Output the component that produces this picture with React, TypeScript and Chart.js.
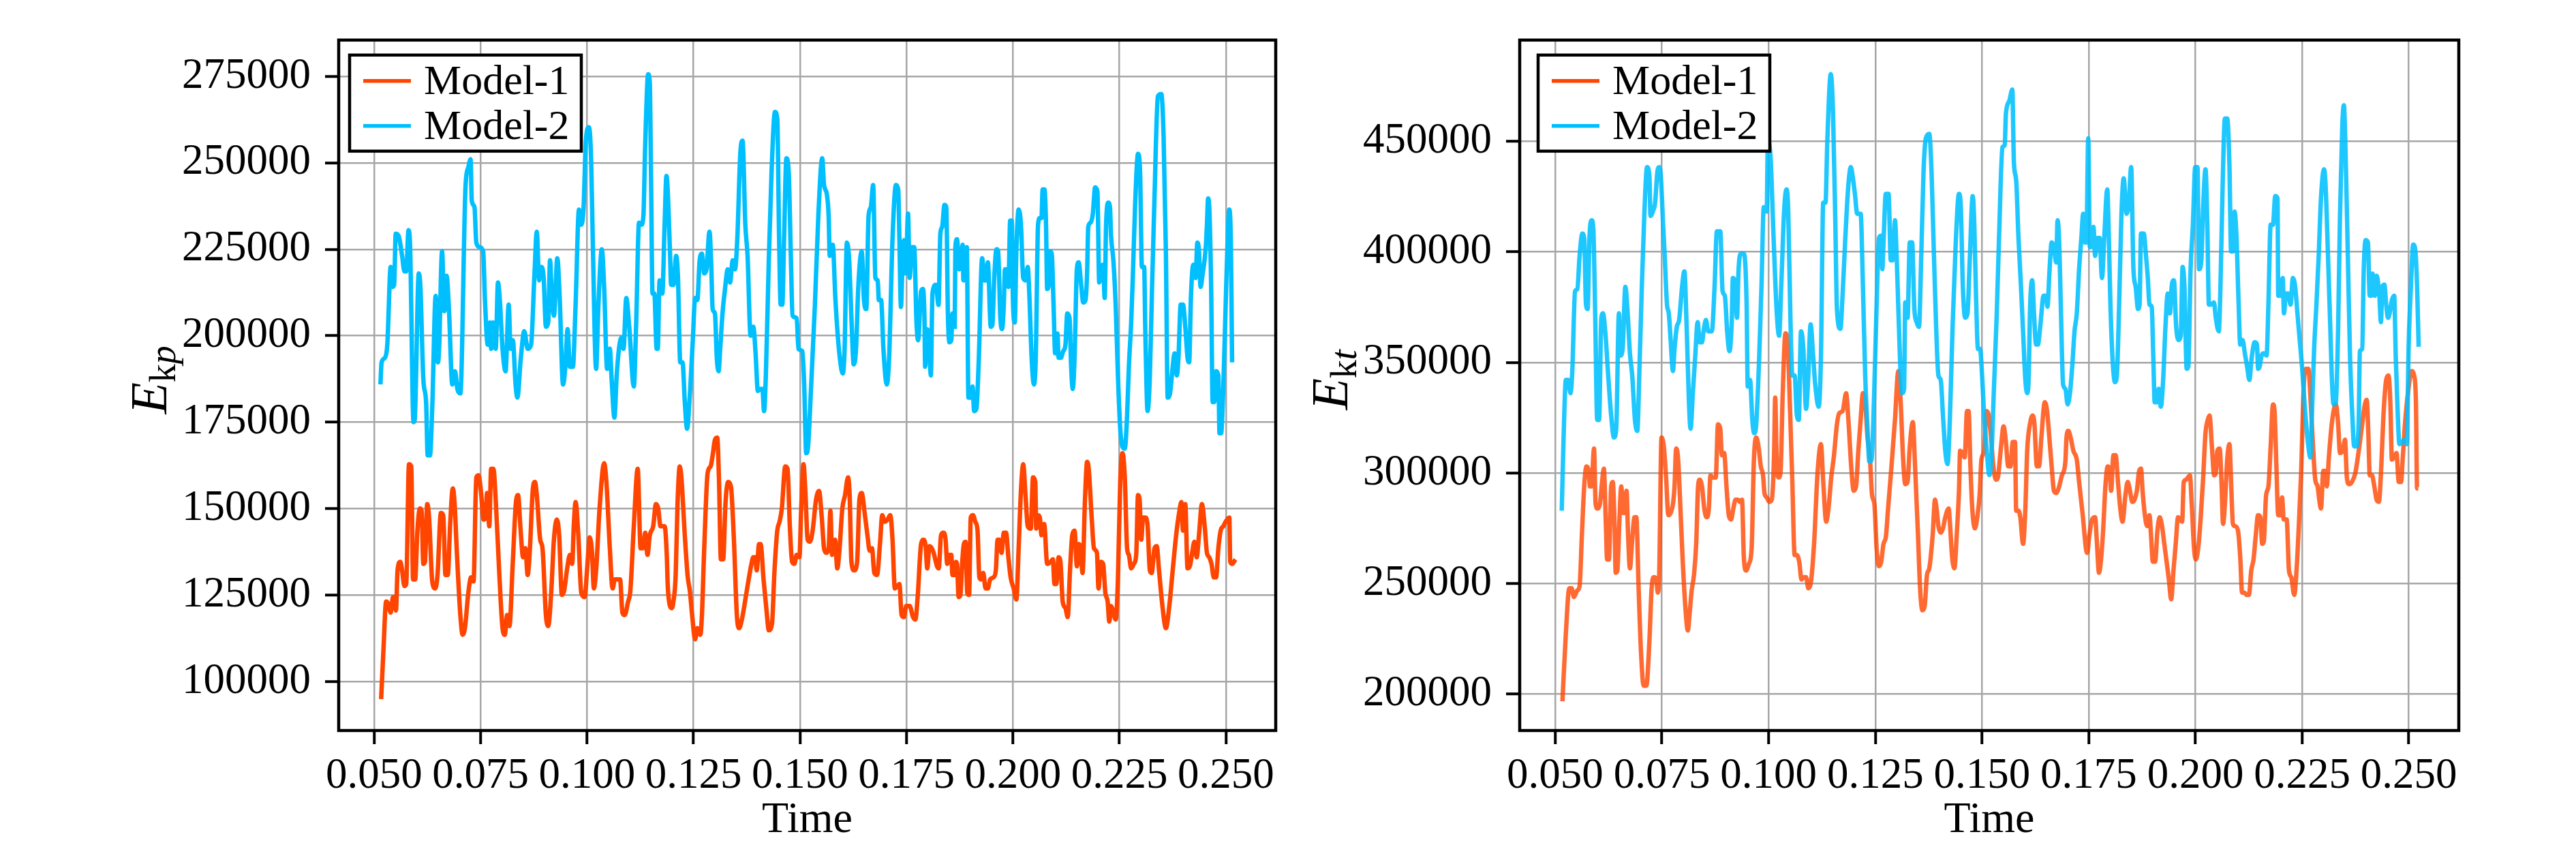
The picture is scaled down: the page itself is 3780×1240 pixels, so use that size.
import { useEffect, useRef } from 'react';
import { Chart, registerables } from 'chart.js';

Chart.register(...registerables);

type Pt = [number, number];

const seriesNames = ['Model-1', 'Model-2'];
const timeTicks = [0.05, 0.075, 0.1, 0.125, 0.15, 0.175, 0.2, 0.225, 0.25];
const kpTicks = [100000, 125000, 150000, 175000, 200000, 225000, 250000, 275000];
const ktTicks = [200000, 250000, 300000, 350000, 400000, 450000];

// left panel, E_kp
const kpModel1: Pt[] = [
  [0.05166, 94900], [0.05220, 108900], [0.05284, 123100], [0.05338, 122400], [0.05391, 119900], [0.05445, 124400],
  [0.05482, 124400], [0.05514, 120500], [0.05552, 132100], [0.05616, 134600], [0.05659, 132100], [0.05713, 127600],
  [0.05756, 128200], [0.05820, 162800], [0.05874, 162200], [0.05916, 129500], [0.05965, 129500], [0.06018, 143600],
  [0.06077, 150000], [0.06115, 149400], [0.06158, 134000], [0.06195, 134600], [0.06249, 151300], [0.06292, 147400],
  [0.06367, 128900], [0.06436, 126900], [0.06490, 130800], [0.06570, 148700], [0.06624, 148100], [0.06677, 130800],
  [0.06731, 130800], [0.06785, 144900], [0.06849, 155800], [0.06892, 151300], [0.06945, 137200], [0.07026, 119200],
  [0.07079, 113500], [0.07133, 115400], [0.07213, 125600], [0.07278, 130100], [0.07336, 128900], [0.07401, 159000],
  [0.07454, 159600], [0.07508, 155100], [0.07572, 146800], [0.07615, 147400], [0.07653, 154500], [0.07706, 144900],
  [0.07749, 161500], [0.07803, 161500], [0.07856, 152600], [0.07937, 132100], [0.08017, 115400], [0.08071, 113500],
  [0.08124, 119200], [0.08178, 116000], [0.08258, 134600], [0.08328, 151300], [0.08382, 153900], [0.08435, 144900],
  [0.08499, 135900], [0.08553, 138500], [0.08607, 130800], [0.08660, 138500], [0.08725, 155100], [0.08778, 157700],
  [0.08821, 153900], [0.08901, 141000], [0.08955, 138500], [0.09035, 119200], [0.09089, 116000], [0.09159, 125600],
  [0.09223, 141000], [0.09293, 146800], [0.09346, 142300], [0.09410, 125000], [0.09464, 126300], [0.09528, 132100],
  [0.09598, 136600], [0.09652, 134000], [0.09689, 144900], [0.09732, 151900], [0.09796, 142300], [0.09866, 125600],
  [0.09946, 124400], [0.10000, 132100], [0.10064, 141700], [0.10118, 137200], [0.10161, 126900], [0.10214, 132100],
  [0.10295, 150000], [0.10402, 163100], [0.10455, 157700], [0.10536, 138500], [0.10600, 126900], [0.10654, 129500],
  [0.10723, 129500], [0.10777, 129500], [0.10831, 119900], [0.10884, 119200], [0.10965, 123100], [0.11018, 126300],
  [0.11099, 144900], [0.11190, 161500], [0.11259, 138500], [0.11313, 138500], [0.11366, 143000], [0.11420, 136600],
  [0.11474, 142300], [0.11554, 144900], [0.11618, 151300], [0.11672, 150000], [0.11725, 144900], [0.11822, 144900],
  [0.11875, 135900], [0.11894, 128200], [0.11948, 121800], [0.11991, 121200], [0.12028, 123100], [0.12082, 130800],
  [0.12125, 151300], [0.12178, 162200], [0.12216, 159000], [0.12296, 142300], [0.12366, 130100], [0.12414, 126300],
  [0.12468, 119200], [0.12538, 112200], [0.12591, 115400], [0.12661, 113500], [0.12698, 119200], [0.12752, 138500],
  [0.12832, 160300], [0.12902, 162200], [0.12950, 165400], [0.13004, 169900], [0.13057, 170500], [0.13100, 157700],
  [0.13143, 135300], [0.13197, 135300], [0.13250, 151300], [0.13315, 157700], [0.13379, 156400], [0.13449, 141000],
  [0.13518, 119200], [0.13572, 115400], [0.13636, 117900], [0.13743, 125600], [0.13850, 133300], [0.13904, 135900],
  [0.13947, 135900], [0.13984, 132100], [0.14038, 139700], [0.14076, 139700], [0.14145, 129500], [0.14215, 120500],
  [0.14268, 114800], [0.14343, 116700], [0.14402, 132100], [0.14467, 143600], [0.14520, 146200], [0.14574, 150000],
  [0.14654, 162200], [0.14708, 161500], [0.14762, 144900], [0.14815, 134600], [0.14869, 134000], [0.14922, 136600],
  [0.14987, 135900], [0.15029, 150000], [0.15083, 162800], [0.15126, 155100], [0.15180, 141000], [0.15233, 140400],
  [0.15297, 143600], [0.15378, 152600], [0.15447, 155100], [0.15512, 147400], [0.15565, 138500], [0.15619, 137200],
  [0.15673, 138500], [0.15715, 149400], [0.15753, 136600], [0.15823, 141000], [0.15876, 132700], [0.15930, 138500],
  [0.15994, 150000], [0.16058, 153900], [0.16128, 159000], [0.16166, 153900], [0.16208, 134600], [0.16273, 132100],
  [0.16342, 134600], [0.16396, 152600], [0.16450, 154500], [0.16519, 148700], [0.16584, 142300], [0.16637, 137800],
  [0.16691, 138500], [0.16745, 131400], [0.16809, 130800], [0.16878, 139700], [0.16932, 148100], [0.16986, 146200],
  [0.17055, 146800], [0.17120, 148100], [0.17173, 141000], [0.17227, 126900], [0.17291, 127600], [0.17334, 128200],
  [0.17387, 119200], [0.17441, 118600], [0.17495, 121800], [0.17575, 121800], [0.17655, 118600], [0.17709, 117900],
  [0.17763, 124400], [0.17843, 139700], [0.17896, 141000], [0.17950, 139100], [0.17988, 132700], [0.18041, 139100],
  [0.18095, 138500], [0.18138, 137200], [0.18218, 133300], [0.18258, 132700], [0.18312, 142300], [0.18365, 143000],
  [0.18419, 141000], [0.18457, 134000], [0.18510, 136600], [0.18553, 136600], [0.18580, 130800], [0.18633, 130800],
  [0.18660, 134600], [0.18687, 134000], [0.18725, 124400], [0.18767, 125000], [0.18810, 134600], [0.18848, 139700],
  [0.18885, 140400], [0.18928, 125600], [0.18971, 125000], [0.19009, 147400], [0.19062, 148100], [0.19116, 146200],
  [0.19169, 143600], [0.19212, 130100], [0.19250, 129500], [0.19303, 131400], [0.19357, 126900], [0.19411, 126900],
  [0.19464, 129500], [0.19544, 130100], [0.19598, 132100], [0.19641, 141000], [0.19678, 141000], [0.19732, 137200],
  [0.19786, 143000], [0.19839, 143000], [0.19893, 135900], [0.19946, 130100], [0.20016, 126900], [0.20080, 123700],
  [0.20134, 138500], [0.20188, 155100], [0.20241, 162800], [0.20295, 153900], [0.20348, 144900], [0.20418, 144200],
  [0.20472, 159000], [0.20525, 157700], [0.20547, 144200], [0.20590, 148100], [0.20632, 147400], [0.20670, 142300],
  [0.20707, 144900], [0.20734, 145500], [0.20804, 134000], [0.20884, 134600], [0.20938, 135300], [0.20975, 128200],
  [0.21018, 128200], [0.21072, 135900], [0.21115, 134600], [0.21168, 123100], [0.21233, 121200], [0.21286, 118600],
  [0.21340, 132100], [0.21393, 142300], [0.21447, 143600], [0.21501, 133300], [0.21543, 139700], [0.21581, 139100],
  [0.21635, 131400], [0.21688, 151300], [0.21742, 163500], [0.21779, 161500], [0.21849, 147400], [0.21902, 138500],
  [0.21972, 137200], [0.22010, 126900], [0.22063, 134600], [0.22117, 134000], [0.22170, 125600], [0.22224, 123100],
  [0.22262, 117300], [0.22304, 121800], [0.22347, 120500], [0.22412, 117900], [0.22465, 129500], [0.22519, 157700],
  [0.22572, 166000], [0.22626, 159000], [0.22680, 138500], [0.22722, 136600], [0.22776, 132700], [0.22840, 134000],
  [0.22894, 136600], [0.22937, 153900], [0.22974, 152600], [0.23012, 141000], [0.23055, 147400], [0.23108, 147400],
  [0.23162, 144900], [0.23215, 132100], [0.23258, 131400], [0.23323, 138500], [0.23376, 139100], [0.23430, 132100],
  [0.23510, 121800], [0.23591, 115400], [0.23671, 121800], [0.23751, 132100], [0.23832, 142300], [0.23901, 148700],
  [0.23955, 151900], [0.23993, 143600], [0.24046, 151300], [0.24100, 132700], [0.24153, 133300], [0.24207, 137200],
  [0.24261, 140400], [0.24314, 135900], [0.24368, 142300], [0.24437, 151300], [0.24502, 144900], [0.24555, 137200],
  [0.24609, 135900], [0.24662, 134000], [0.24716, 130100], [0.24770, 130100], [0.24823, 138500], [0.24877, 143600],
  [0.24941, 144900], [0.24995, 146200], [0.25080, 147400], [0.25102, 134600], [0.25145, 134000], [0.25225, 135300],
];

const kpModel2: Pt[] = [
  [0.05150, 185900], [0.05177, 192300], [0.05257, 193600], [0.05311, 197400], [0.05391, 219900], [0.05429, 214100],
  [0.05472, 214700], [0.05509, 229500], [0.05579, 228800], [0.05659, 223100], [0.05713, 218600], [0.05756, 218600],
  [0.05809, 230500], [0.05847, 225600], [0.05927, 175000], [0.05954, 175600], [0.06050, 218000], [0.06088, 214100],
  [0.06158, 187200], [0.06222, 180800], [0.06259, 165400], [0.06313, 165400], [0.06367, 179500], [0.06447, 211500],
  [0.06501, 192300], [0.06527, 196200], [0.06597, 224400], [0.06651, 207100], [0.06704, 217300], [0.06758, 207700],
  [0.06838, 185900], [0.06902, 189700], [0.06956, 184600], [0.07026, 183300], [0.07149, 243600], [0.07213, 248700],
  [0.07267, 251000], [0.07294, 239100], [0.07358, 237200], [0.07401, 226900], [0.07481, 225600], [0.07562, 224400],
  [0.07604, 210300], [0.07669, 197400], [0.07722, 203800], [0.07749, 196200], [0.07792, 203800], [0.07856, 196200],
  [0.07910, 215400], [0.07953, 210300], [0.08017, 196200], [0.08087, 189700], [0.08162, 209000], [0.08205, 196200],
  [0.08258, 198700], [0.08323, 185900], [0.08366, 182100], [0.08446, 193600], [0.08526, 201300], [0.08607, 196200],
  [0.08687, 197400], [0.08767, 218000], [0.08821, 230100], [0.08875, 216000], [0.08928, 219900], [0.08982, 216700],
  [0.09035, 202600], [0.09089, 203800], [0.09132, 221800], [0.09169, 212800], [0.09223, 205800], [0.09303, 222400],
  [0.09357, 211500], [0.09437, 185900], [0.09491, 191000], [0.09544, 201900], [0.09598, 191000], [0.09668, 191000],
  [0.09732, 209000], [0.09812, 236500], [0.09866, 232100], [0.09920, 237200], [0.09973, 256400], [0.10043, 260300],
  [0.10096, 251300], [0.10134, 228200], [0.10214, 190400], [0.10268, 209000], [0.10348, 225000], [0.10402, 214100],
  [0.10472, 190400], [0.10536, 196200], [0.10579, 187200], [0.10643, 176300], [0.10697, 188500], [0.10750, 196200],
  [0.10804, 199400], [0.10857, 196200], [0.10922, 210900], [0.10991, 202600], [0.11099, 185300], [0.11152, 202600],
  [0.11222, 232700], [0.11275, 232100], [0.11324, 234600], [0.11366, 255100], [0.11436, 275600], [0.11474, 273100],
  [0.11501, 248700], [0.11538, 212200], [0.11581, 212200], [0.11635, 196200], [0.11661, 196200], [0.11704, 216000],
  [0.11768, 212200], [0.11822, 232100], [0.11865, 246200], [0.11948, 224400], [0.11975, 214700], [0.12028, 214700],
  [0.12093, 223100], [0.12136, 216700], [0.12189, 192300], [0.12243, 192300], [0.12296, 180800], [0.12350, 173100],
  [0.12404, 180800], [0.12484, 198700], [0.12538, 210900], [0.12591, 210300], [0.12645, 221800], [0.12698, 223700],
  [0.12752, 218000], [0.12805, 219200], [0.12875, 230100], [0.12913, 221800], [0.12950, 207700], [0.13004, 206400],
  [0.13047, 193600], [0.13089, 189700], [0.13127, 196200], [0.13181, 206400], [0.13234, 212800], [0.13304, 219200],
  [0.13357, 215400], [0.13422, 221800], [0.13475, 219200], [0.13529, 228200], [0.13599, 252600], [0.13652, 256400],
  [0.13717, 232100], [0.13770, 223100], [0.13840, 200000], [0.13904, 202600], [0.13958, 194900], [0.14011, 184000],
  [0.14065, 184600], [0.14118, 184600], [0.14156, 178200], [0.14199, 188500], [0.14268, 221800], [0.14333, 247400],
  [0.14413, 264700], [0.14467, 262800], [0.14510, 228200], [0.14547, 209000], [0.14585, 209000], [0.14627, 228200],
  [0.14681, 251300], [0.14735, 247400], [0.14788, 221800], [0.14826, 205800], [0.14922, 205100], [0.14965, 196200],
  [0.15056, 195500], [0.15099, 185900], [0.15147, 166000], [0.15190, 167900], [0.15254, 183300], [0.15351, 209000],
  [0.15431, 234600], [0.15522, 251300], [0.15565, 243600], [0.15630, 241000], [0.15673, 234600], [0.15699, 223100],
  [0.15769, 226300], [0.15833, 210300], [0.15914, 196200], [0.16005, 189100], [0.16048, 196200], [0.16101, 226900],
  [0.16155, 221800], [0.16208, 205100], [0.16262, 191700], [0.16316, 196200], [0.16369, 214100], [0.16450, 224400],
  [0.16503, 210300], [0.16557, 207700], [0.16610, 234600], [0.16664, 237200], [0.16718, 243600], [0.16771, 216700],
  [0.16825, 216000], [0.16852, 210300], [0.16905, 210300], [0.16959, 196200], [0.17039, 185900], [0.17093, 193600],
  [0.17173, 228200], [0.17253, 243600], [0.17307, 242300], [0.17334, 228200], [0.17371, 208300], [0.17403, 219200],
  [0.17441, 227600], [0.17484, 218000], [0.17537, 235300], [0.17575, 216700], [0.17629, 225600], [0.17682, 225600],
  [0.17736, 203800], [0.17773, 198700], [0.17843, 212800], [0.17886, 213500], [0.17923, 205100], [0.17939, 191000],
  [0.17977, 201900], [0.18020, 200600], [0.18073, 188500], [0.18111, 212200], [0.18191, 214700], [0.18253, 208900],
  [0.18296, 229500], [0.18338, 231400], [0.18392, 237800], [0.18435, 237200], [0.18473, 206400], [0.18510, 198100],
  [0.18553, 198700], [0.18580, 206400], [0.18633, 202600], [0.18649, 225600], [0.18687, 227900], [0.18741, 219200],
  [0.18778, 220500], [0.18821, 226300], [0.18837, 216000], [0.18875, 216700], [0.18917, 225600], [0.18955, 182100],
  [0.19009, 182100], [0.19052, 185300], [0.19089, 178200], [0.19143, 178900], [0.19196, 192300], [0.19277, 222400],
  [0.19330, 216000], [0.19368, 216000], [0.19411, 221200], [0.19480, 202600], [0.19518, 203200], [0.19561, 216700],
  [0.19614, 225000], [0.19652, 224400], [0.19705, 205100], [0.19743, 201900], [0.19786, 209000], [0.19812, 219200],
  [0.19866, 219200], [0.19893, 214100], [0.19936, 233300], [0.19973, 233300], [0.20000, 210300], [0.20043, 203800],
  [0.20080, 224400], [0.20134, 236500], [0.20188, 232100], [0.20241, 216700], [0.20295, 216000], [0.20348, 219900],
  [0.20386, 211500], [0.20439, 193600], [0.20493, 185900], [0.20536, 193600], [0.20590, 232100], [0.20632, 234000],
  [0.20670, 234000], [0.20697, 242300], [0.20740, 242300], [0.20777, 232100], [0.20804, 213500], [0.20841, 214700],
  [0.20874, 224400], [0.20911, 223700], [0.20954, 209000], [0.20991, 194900], [0.21045, 200600], [0.21072, 193600],
  [0.21125, 193600], [0.21179, 195500], [0.21233, 197400], [0.21275, 206400], [0.21329, 205100], [0.21367, 191000],
  [0.21404, 184600], [0.21447, 193600], [0.21501, 219200], [0.21543, 221200], [0.21597, 215400], [0.21651, 209600],
  [0.21704, 210300], [0.21742, 218600], [0.21768, 231400], [0.21822, 232700], [0.21876, 235300], [0.21929, 242900],
  [0.21983, 241700], [0.22026, 215400], [0.22079, 219900], [0.22117, 220500], [0.22154, 210900], [0.22187, 232100],
  [0.22240, 238500], [0.22278, 237200], [0.22304, 228800], [0.22358, 221800], [0.22412, 209000], [0.22465, 188500],
  [0.22519, 173100], [0.22572, 167900], [0.22626, 167300], [0.22680, 176900], [0.22722, 191000], [0.22776, 203800],
  [0.22814, 216700], [0.22867, 237200], [0.22937, 252600], [0.22985, 247400], [0.23028, 219900], [0.23081, 219900],
  [0.23108, 201300], [0.23162, 178200], [0.23215, 188500], [0.23269, 215400], [0.23323, 239700], [0.23403, 269200],
  [0.23483, 269900], [0.23537, 257700], [0.23591, 224400], [0.23634, 182100], [0.23688, 183300], [0.23751, 191000],
  [0.23794, 194900], [0.23848, 188500], [0.23886, 193600], [0.23939, 209000], [0.23993, 209000], [0.24046, 202600],
  [0.24100, 193600], [0.24137, 192300], [0.24180, 211500], [0.24234, 220500], [0.24288, 216700], [0.24330, 226900],
  [0.24368, 224400], [0.24405, 214100], [0.24448, 217300], [0.24528, 225600], [0.24555, 232100], [0.24582, 239700],
  [0.24609, 237200], [0.24652, 215400], [0.24689, 180800], [0.24727, 180800], [0.24770, 189700], [0.24823, 188500],
  [0.24850, 171800], [0.24888, 171800], [0.24941, 185900], [0.24995, 209000], [0.25038, 226900], [0.25080, 236500],
  [0.25118, 225600], [0.25145, 192300],
];

// right panel, E_kt
const ktModel1: Pt[] = [
  [0.05171, 196600], [0.05252, 227700], [0.05332, 247800], [0.05386, 247800], [0.05439, 243800], [0.05520, 246800],
  [0.05573, 248800], [0.05627, 271900], [0.05681, 293900], [0.05734, 302900], [0.05788, 300900], [0.05815, 293900],
  [0.05852, 293900], [0.05911, 311000], [0.05949, 285900], [0.05991, 283900], [0.06056, 286900], [0.06099, 295900],
  [0.06141, 301900], [0.06190, 275900], [0.06217, 260800], [0.06259, 260800], [0.06313, 293900], [0.06350, 295900],
  [0.06388, 279900], [0.06420, 254800], [0.06458, 255800], [0.06501, 275900], [0.06549, 293900], [0.06592, 281900],
  [0.06634, 281900], [0.06672, 291900], [0.06709, 271900], [0.06752, 256800], [0.06806, 269900], [0.06860, 279900],
  [0.06902, 279900], [0.06956, 247800], [0.07010, 219700], [0.07074, 203700], [0.07138, 203700], [0.07208, 223700],
  [0.07261, 247800], [0.07315, 252800], [0.07369, 251800], [0.07406, 245800], [0.07438, 253800], [0.07492, 316000],
  [0.07546, 312000], [0.07599, 297900], [0.07653, 280900], [0.07706, 281900], [0.07760, 285900], [0.07797, 293900],
  [0.07835, 311000], [0.07878, 307000], [0.07931, 285900], [0.07985, 261800], [0.08049, 239800], [0.08108, 228700],
  [0.08157, 237800], [0.08199, 246800], [0.08253, 253800], [0.08307, 268900], [0.08349, 293900], [0.08387, 296900],
  [0.08440, 293900], [0.08494, 283900], [0.08548, 279900], [0.08601, 283900], [0.08639, 298900], [0.08692, 297900],
  [0.08762, 297900], [0.08816, 322000], [0.08869, 320000], [0.08907, 308000], [0.08960, 309000], [0.09014, 293900],
  [0.09068, 280900], [0.09121, 278900], [0.09175, 283900], [0.09228, 287900], [0.09282, 287900], [0.09325, 286900],
  [0.09378, 287900], [0.09421, 261800], [0.09475, 255800], [0.09539, 258800], [0.09603, 265800], [0.09657, 306000],
  [0.09711, 316000], [0.09764, 312000], [0.09818, 303000], [0.09871, 298900], [0.09904, 290900], [0.09957, 288900],
  [0.10021, 286900], [0.10075, 287900], [0.10129, 308000], [0.10155, 334100], [0.10193, 304000], [0.10236, 297900],
  [0.10279, 299900], [0.10332, 336100], [0.10396, 363100], [0.10450, 358100], [0.10504, 328000], [0.10557, 295900],
  [0.10611, 262800], [0.10664, 262800], [0.10718, 259800], [0.10772, 251800], [0.10825, 252800], [0.10879, 252800],
  [0.10932, 247800], [0.10986, 249800], [0.11066, 267900], [0.11147, 299900], [0.11227, 313000], [0.11281, 295900],
  [0.11350, 277900], [0.11404, 283900], [0.11468, 297900], [0.11533, 308000], [0.11602, 322000], [0.11656, 327000],
  [0.11736, 328000], [0.11817, 336100], [0.11870, 324000], [0.11940, 301900], [0.11994, 291900], [0.12050, 293900],
  [0.12103, 310000], [0.12157, 324000], [0.12211, 336100], [0.12264, 332000], [0.12318, 316000], [0.12371, 308000],
  [0.12425, 289900], [0.12479, 285900], [0.12532, 265800], [0.12586, 257800], [0.12639, 259800], [0.12693, 267900],
  [0.12747, 270900], [0.12800, 283900], [0.12880, 303000], [0.12961, 324000], [0.13041, 346100], [0.13095, 332000],
  [0.13148, 308000], [0.13202, 294900], [0.13256, 295900], [0.13309, 312000], [0.13379, 323000], [0.13432, 303000],
  [0.13497, 273900], [0.13550, 247800], [0.13604, 237800], [0.13658, 239800], [0.13711, 253800], [0.13765, 256800],
  [0.13845, 271900], [0.13899, 287900], [0.13936, 283900], [0.13979, 275900], [0.14033, 272900], [0.14086, 274900],
  [0.14140, 279900], [0.14220, 283900], [0.14247, 277900], [0.14301, 261800], [0.14354, 256800], [0.14408, 271900],
  [0.14461, 291900], [0.14488, 310000], [0.14542, 309000], [0.14595, 307000], [0.14649, 328000], [0.14686, 328000],
  [0.14729, 303000], [0.14772, 283900], [0.14836, 274900], [0.14890, 279900], [0.14944, 289900], [0.14987, 306000],
  [0.15051, 310000], [0.15104, 328000], [0.15158, 326000], [0.15212, 316000], [0.15265, 303000], [0.15330, 296900],
  [0.15372, 297900], [0.15437, 310000], [0.15506, 321000], [0.15560, 314000], [0.15614, 303000], [0.15667, 302900],
  [0.15721, 314000], [0.15774, 314000], [0.15801, 282900], [0.15855, 282900], [0.15898, 279900], [0.15962, 267900],
  [0.16016, 283900], [0.16059, 310000], [0.16123, 322000], [0.16187, 326000], [0.16230, 322000], [0.16284, 303000],
  [0.16337, 303000], [0.16391, 316000], [0.16471, 332000], [0.16525, 328000], [0.16578, 316000], [0.16632, 303000],
  [0.16685, 291900], [0.16739, 290900], [0.16793, 292900], [0.16873, 298900], [0.16953, 304900], [0.16980, 316000],
  [0.17023, 319000], [0.17077, 316000], [0.17141, 310000], [0.17221, 306000], [0.17275, 295900], [0.17355, 281900],
  [0.17462, 263800], [0.17516, 271900], [0.17580, 278900], [0.17650, 279900], [0.17688, 269900], [0.17741, 254800],
  [0.17784, 259800], [0.17838, 273900], [0.17891, 293900], [0.17945, 302900], [0.17988, 301900], [0.18025, 291900],
  [0.18079, 308000], [0.18132, 308000], [0.18186, 295900], [0.18240, 283900], [0.18293, 277900], [0.18360, 289900],
  [0.18414, 295900], [0.18467, 291900], [0.18521, 286900], [0.18574, 287900], [0.18628, 291900], [0.18682, 300900],
  [0.18725, 301900], [0.18762, 291900], [0.18816, 280900], [0.18869, 275900], [0.18923, 280900], [0.18960, 271900],
  [0.19003, 259800], [0.19057, 259800], [0.19110, 273900], [0.19164, 279900], [0.19218, 275900], [0.19271, 267900],
  [0.19325, 259800], [0.19378, 251800], [0.19432, 242800], [0.19486, 255800], [0.19539, 267900], [0.19593, 279900],
  [0.19646, 278900], [0.19689, 277900], [0.19727, 295900], [0.19780, 296900], [0.19823, 297900], [0.19871, 298900],
  [0.19914, 285900], [0.19968, 265800], [0.20011, 260800], [0.20064, 265800], [0.20118, 277900], [0.20182, 297900],
  [0.20236, 318000], [0.20289, 324000], [0.20332, 326000], [0.20386, 312000], [0.20439, 298900], [0.20477, 299900],
  [0.20514, 310000], [0.20568, 311000], [0.20611, 295900], [0.20648, 276900], [0.20691, 285900], [0.20745, 306000],
  [0.20798, 313000], [0.20836, 295900], [0.20879, 276900], [0.20932, 275900], [0.20997, 273900], [0.21050, 261800],
  [0.21093, 245800], [0.21147, 245800], [0.21200, 244800], [0.21254, 244800], [0.21308, 255800], [0.21361, 260800],
  [0.21415, 271900], [0.21468, 280900], [0.21522, 279900], [0.21565, 267900], [0.21602, 268900], [0.21656, 289900],
  [0.21710, 293900], [0.21763, 312000], [0.21817, 331000], [0.21854, 328000], [0.21897, 303000], [0.21940, 280900],
  [0.21994, 280900], [0.22031, 288900], [0.22069, 278900], [0.22138, 278900], [0.22192, 255800], [0.22245, 252800],
  [0.22315, 244800], [0.22369, 255800], [0.22422, 275900], [0.22476, 299900], [0.22540, 340100], [0.22594, 347100],
  [0.22647, 347100], [0.22701, 332000], [0.22755, 312000], [0.22808, 296900], [0.22862, 293900], [0.22915, 285900],
  [0.22942, 283900], [0.22996, 300900], [0.23033, 300900], [0.23076, 293900], [0.23130, 308000], [0.23183, 320000],
  [0.23237, 328000], [0.23290, 331000], [0.23344, 322000], [0.23387, 309000], [0.23451, 310000], [0.23505, 315000],
  [0.23548, 297900], [0.23601, 294900], [0.23666, 295900], [0.23746, 299900], [0.23826, 310000], [0.23907, 322000],
  [0.23960, 330000], [0.24014, 333100], [0.24051, 318000], [0.24084, 298900], [0.24137, 298900], [0.24191, 293900],
  [0.24244, 287900], [0.24298, 286900], [0.24352, 301900], [0.24405, 326000], [0.24469, 342100], [0.24523, 344100],
  [0.24566, 332000], [0.24603, 306000], [0.24657, 307000], [0.24711, 309000], [0.24764, 295900], [0.24818, 295900],
  [0.24855, 306000], [0.24909, 322000], [0.24979, 336100], [0.25070, 346100], [0.25123, 344100], [0.25166, 332000],
  [0.25193, 293000], [0.25220, 293000],
];

const ktModel2: Pt[] = [
  [0.05155, 282900], [0.05198, 316000], [0.05252, 342100], [0.05305, 342100], [0.05359, 336100], [0.05402, 346100],
  [0.05466, 382200], [0.05520, 383200], [0.05573, 398200], [0.05638, 408300], [0.05681, 406300], [0.05723, 376200],
  [0.05761, 374200], [0.05804, 406300], [0.05857, 414300], [0.05895, 410300], [0.05938, 372200], [0.05986, 324000],
  [0.06029, 324000], [0.06083, 370200], [0.06120, 372200], [0.06174, 364100], [0.06243, 344100], [0.06313, 326000],
  [0.06377, 316000], [0.06431, 320000], [0.06495, 372200], [0.06527, 353100], [0.06581, 356100], [0.06645, 384200],
  [0.06699, 372200], [0.06752, 354100], [0.06806, 344100], [0.06870, 324000], [0.06924, 319000], [0.06977, 348100],
  [0.07031, 384200], [0.07090, 417300], [0.07154, 438400], [0.07208, 434400], [0.07235, 416300], [0.07288, 418300],
  [0.07342, 422300], [0.07396, 436400], [0.07438, 438400], [0.07476, 434400], [0.07530, 412300], [0.07567, 398200],
  [0.07621, 376200], [0.07663, 372200], [0.07706, 360100], [0.07760, 346100], [0.07797, 356100], [0.07851, 366100],
  [0.07905, 369200], [0.07974, 384200], [0.08028, 391200], [0.08081, 366100], [0.08135, 332000], [0.08173, 320000],
  [0.08226, 336100], [0.08280, 352100], [0.08339, 368200], [0.08387, 359100], [0.08440, 359100], [0.08478, 364100],
  [0.08532, 369200], [0.08585, 364100], [0.08671, 364100], [0.08735, 384200], [0.08789, 409300], [0.08869, 409300],
  [0.08923, 382200], [0.08976, 380200], [0.09030, 364100], [0.09084, 355100], [0.09137, 368200], [0.09164, 388200],
  [0.09218, 385200], [0.09260, 370200], [0.09298, 392200], [0.09352, 399200], [0.09421, 399200], [0.09486, 376200],
  [0.09512, 339100], [0.09566, 342100], [0.09620, 324000], [0.09662, 318000], [0.09711, 322000], [0.09780, 352100],
  [0.09834, 384200], [0.09888, 420300], [0.09957, 418300], [0.09984, 450400], [0.10048, 442400], [0.10118, 406300],
  [0.10193, 372200], [0.10247, 362100], [0.10300, 386200], [0.10370, 420300], [0.10423, 428300], [0.10461, 418300],
  [0.10514, 368200], [0.10557, 344100], [0.10611, 344100], [0.10664, 326000], [0.10707, 324000], [0.10761, 364100],
  [0.10815, 356100], [0.10879, 329000], [0.10922, 340100], [0.10986, 367200], [0.11040, 354100], [0.11093, 340100],
  [0.11174, 330000], [0.11227, 352100], [0.11281, 422300], [0.11334, 422300], [0.11377, 450400], [0.11458, 480500],
  [0.11511, 462400], [0.11565, 412300], [0.11602, 374200], [0.11683, 365200], [0.11728, 378200], [0.11793, 404300],
  [0.11862, 428300], [0.11927, 438400], [0.11969, 434400], [0.12023, 426300], [0.12077, 417300], [0.12157, 417300],
  [0.12211, 384200], [0.12264, 344100], [0.12318, 320000], [0.12361, 305000], [0.12414, 306000], [0.12468, 332000],
  [0.12532, 376200], [0.12586, 406300], [0.12639, 407300], [0.12666, 392200], [0.12693, 404300], [0.12747, 426300],
  [0.12811, 426300], [0.12864, 396200], [0.12907, 396200], [0.12961, 414300], [0.13004, 396200], [0.13041, 374200],
  [0.13095, 344100], [0.13132, 336100], [0.13175, 338100], [0.13202, 377200], [0.13256, 370200], [0.13309, 404300],
  [0.13363, 404300], [0.13416, 374200], [0.13470, 368200], [0.13524, 366100], [0.13577, 398200], [0.13631, 436400],
  [0.13684, 451400], [0.13765, 453400], [0.13818, 436400], [0.13872, 400200], [0.13926, 366100], [0.13979, 344100],
  [0.14033, 342100], [0.14086, 326000], [0.14140, 310000], [0.14193, 304000], [0.14247, 324000], [0.14311, 366100],
  [0.14381, 402200], [0.14461, 426300], [0.14504, 420300], [0.14552, 384200], [0.14606, 370200], [0.14660, 372200],
  [0.14713, 396200], [0.14783, 425300], [0.14820, 412300], [0.14863, 378200], [0.14906, 356100], [0.14954, 356100],
  [0.15008, 342100], [0.15051, 326000], [0.15104, 312000], [0.15174, 299000], [0.15222, 308000], [0.15276, 336100],
  [0.15346, 372200], [0.15399, 406300], [0.15480, 447400], [0.15533, 448400], [0.15560, 462400], [0.15641, 468400],
  [0.15710, 473500], [0.15748, 440400], [0.15801, 432400], [0.15855, 406300], [0.15909, 386200], [0.15962, 364100],
  [0.16016, 342100], [0.16059, 336100], [0.16096, 344100], [0.16123, 372200], [0.16176, 387200], [0.16219, 372200],
  [0.16267, 358100], [0.16310, 358100], [0.16364, 366100], [0.16444, 380200], [0.16498, 380200], [0.16535, 375200],
  [0.16578, 390200], [0.16632, 404300], [0.16685, 402200], [0.16739, 395200], [0.16771, 414300], [0.16809, 404300],
  [0.16846, 376200], [0.16900, 340100], [0.16953, 338100], [0.17007, 331000], [0.17061, 336100], [0.17114, 348100],
  [0.17168, 364100], [0.17221, 372200], [0.17275, 392200], [0.17328, 406300], [0.17371, 417300], [0.17409, 404300],
  [0.17446, 404300], [0.17489, 451400], [0.17527, 402200], [0.17570, 402200], [0.17612, 411300], [0.17650, 398200],
  [0.17704, 406300], [0.17757, 406300], [0.17811, 388200], [0.17864, 406300], [0.17934, 428300], [0.17972, 406300],
  [0.18009, 376200], [0.18063, 350200], [0.18116, 341100], [0.18159, 344100], [0.18213, 376200], [0.18266, 416300],
  [0.18320, 433300], [0.18387, 417300], [0.18441, 422300], [0.18494, 438400], [0.18548, 392200], [0.18601, 384200],
  [0.18655, 374200], [0.18692, 376200], [0.18725, 408300], [0.18789, 408300], [0.18842, 398200], [0.18885, 388200],
  [0.18923, 376200], [0.18976, 375200], [0.19014, 352100], [0.19046, 332000], [0.19100, 332000], [0.19137, 338100],
  [0.19191, 330000], [0.19244, 342100], [0.19298, 366100], [0.19352, 381200], [0.19405, 372200], [0.19443, 384200],
  [0.19496, 387200], [0.19550, 366100], [0.19603, 360100], [0.19657, 362100], [0.19700, 393200], [0.19743, 384200],
  [0.19796, 347100], [0.19834, 348100], [0.19887, 392200], [0.19941, 412300], [0.19995, 438400], [0.20048, 438400],
  [0.20086, 392200], [0.20139, 396200], [0.20182, 420300], [0.20236, 437400], [0.20279, 412300], [0.20316, 376200],
  [0.20370, 376200], [0.20434, 377200], [0.20477, 370200], [0.20547, 364100], [0.20584, 382200], [0.20638, 430300],
  [0.20691, 460400], [0.20745, 460400], [0.20798, 438400], [0.20836, 400200], [0.20879, 400200], [0.20916, 418300],
  [0.20959, 408300], [0.21013, 376200], [0.21050, 358100], [0.21104, 360100], [0.21158, 354100], [0.21211, 348100],
  [0.21265, 342100], [0.21318, 352100], [0.21388, 359100], [0.21442, 358100], [0.21468, 347100], [0.21506, 348100],
  [0.21549, 353100], [0.21602, 354100], [0.21667, 353100], [0.21710, 376200], [0.21763, 412300], [0.21817, 412300],
  [0.21870, 425300], [0.21924, 424300], [0.21940, 380200], [0.21994, 380200], [0.22047, 388200], [0.22074, 372200],
  [0.22122, 381200], [0.22176, 381200], [0.22229, 376200], [0.22283, 388200], [0.22337, 384200], [0.22390, 372200],
  [0.22444, 360100], [0.22497, 348100], [0.22540, 336100], [0.22594, 322000], [0.22647, 312000], [0.22690, 307000],
  [0.22728, 326000], [0.22781, 356100], [0.22835, 376200], [0.22888, 398200], [0.22942, 424300], [0.23012, 437400],
  [0.23049, 430300], [0.23103, 400200], [0.23156, 368200], [0.23194, 344100], [0.23237, 331000], [0.23290, 332000],
  [0.23344, 366100], [0.23387, 416300], [0.23440, 456400], [0.23478, 466400], [0.23516, 446400], [0.23569, 400200],
  [0.23623, 352100], [0.23676, 326000], [0.23719, 312000], [0.23773, 312000], [0.23826, 324000], [0.23853, 355100],
  [0.23907, 356100], [0.23944, 392200], [0.23987, 405300], [0.24041, 404300], [0.24084, 380200], [0.24121, 380200],
  [0.24148, 390200], [0.24201, 380200], [0.24244, 389200], [0.24309, 380200], [0.24346, 368200], [0.24378, 384200],
  [0.24427, 385200], [0.24469, 376200], [0.24512, 370200], [0.24550, 372200], [0.24603, 378200], [0.24657, 380200],
  [0.24694, 352100], [0.24737, 328000], [0.24780, 313000], [0.24844, 314000], [0.24898, 315000], [0.24952, 313000],
  [0.24994, 356100], [0.25048, 384200], [0.25102, 403300], [0.25155, 400200], [0.25193, 384200], [0.25230, 357100],
];

const SERIF = "'Liberation Serif', 'Times New Roman', Times, serif";
const legendColors = ['#FF4500', '#00BFFF'];

interface PanelProps {
  model1: Pt[];
  model2: Pt[];
  yTicks: number[];
  yMin: number;
  yMax: number;
  subRoman: string;
  subItalic: string;
  lineColors: string[];
  axisWidth: number;
  padRight: number;
  legendX: number;
}

function Panel(props: PanelProps) {
  const canvasRef = useRef<HTMLCanvasElement>(null);

  useEffect(() => {
    if (!canvasRef.current) return;

    // frame, legend and axis titles drawn on top of the plot
    const decorations = {
      id: 'decorations',
      afterDraw(chart: Chart) {
        const { ctx, chartArea: area } = chart;
        ctx.save();

        ctx.strokeStyle = '#000';
        ctx.lineWidth = 4.5;
        ctx.strokeRect(area.left, area.top, area.right - area.left, area.bottom - area.top);

        const bx = area.left + props.legendX;
        const by = area.top + 22;
        ctx.fillStyle = '#fff';
        ctx.fillRect(bx, by, 340, 141);
        ctx.strokeRect(bx, by, 340, 141);
        seriesNames.forEach((name, i) => {
          const ly = by + 38 + i * 66;
          ctx.strokeStyle = legendColors[i];
          ctx.lineWidth = 5.5;
          ctx.beginPath();
          ctx.moveTo(bx + 20, ly);
          ctx.lineTo(bx + 90, ly);
          ctx.stroke();
          ctx.fillStyle = '#000';
          ctx.font = `62px ${SERIF}`;
          ctx.textAlign = 'left';
          ctx.textBaseline = 'alphabetic';
          ctx.fillText(name, bx + 109, ly + 19);
        });

        ctx.font = `64px ${SERIF}`;
        ctx.textAlign = 'center';
        ctx.fillStyle = '#000';
        ctx.fillText('Time', (area.left + area.right) / 2, 1221);

        // y title: italic E with subscript
        ctx.translate(area.left - 253, (area.top + area.bottom) / 2 - 8);
        ctx.rotate(-Math.PI / 2);
        ctx.textAlign = 'left';
        const fE = `italic 76px ${SERIF}`;
        const fR = `54px ${SERIF}`;
        const fI = `italic 54px ${SERIF}`;
        ctx.font = fE;
        const wE = ctx.measureText('E').width;
        ctx.font = fR;
        const wR = ctx.measureText(props.subRoman).width;
        ctx.font = fI;
        const wI = ctx.measureText(props.subItalic).width;
        const x0 = -(wE + wR + wI) / 2;
        ctx.font = fE;
        ctx.fillText('E', x0, 0);
        ctx.font = fR;
        ctx.fillText(props.subRoman, x0 + wE, 13);
        ctx.font = fI;
        ctx.fillText(props.subItalic, x0 + wE + wR, 13);

        ctx.restore();
      },
    };

    const tickFont = { family: SERIF, size: 63 };
    const grid = { color: '#a6a6a6', lineWidth: 2.5, tickColor: '#000', tickWidth: 4, tickLength: 20 };

    const chart = new Chart(canvasRef.current, {
      type: 'line',
      data: {
        datasets: [
          {
            label: seriesNames[0],
            data: props.model1.map(([x, y]) => ({ x, y })),
            borderColor: props.lineColors[0],
            borderWidth: 6.5,
            pointRadius: 0,
            cubicInterpolationMode: 'monotone',
            order: 2,
          },
          {
            label: seriesNames[1],
            data: props.model2.map(([x, y]) => ({ x, y })),
            borderColor: props.lineColors[1],
            borderWidth: 6.5,
            pointRadius: 0,
            cubicInterpolationMode: 'monotone',
            order: 1,
          },
        ],
      },
      options: {
        animation: false,
        responsive: false,
        devicePixelRatio: 1,
        events: [],
        layout: { padding: { left: 0, right: props.padRight, top: 17, bottom: 0 } },
        plugins: { legend: { display: false }, tooltip: { enabled: false } },
        scales: {
          x: {
            type: 'linear',
            min: 0.0417,
            max: 0.2617,
            grid,
            border: { display: false },
            afterBuildTicks: (scale: any) => { scale.ticks = timeTicks.map((value) => ({ value })); },
            afterFit: (scale: any) => { scale.height = 168; },
            ticks: {
              font: tickFont,
              color: '#000',
              padding: 10,
              maxRotation: 0,
              autoSkip: false,
              callback: (v: any) => Number(v).toFixed(3),
            },
          },
          y: {
            type: 'linear',
            min: props.yMin,
            max: props.yMax,
            grid,
            border: { display: false },
            afterBuildTicks: (scale: any) => { scale.ticks = props.yTicks.map((value) => ({ value })); },
            afterFit: (scale: any) => { scale.width = props.axisWidth; },
            ticks: {
              font: tickFont,
              color: '#000',
              padding: 21,
              autoSkip: false,
              callback: (v: any) => String(v),
            },
          },
        },
      },
      plugins: [decorations],
    });

    return () => chart.destroy();
  }, []);

  return <canvas ref={canvasRef} width={1890} height={1240} style={{ display: 'block', width: 1890, height: 1240 }} />;
}

export default function App() {
  useEffect(() => {
    document.body.style.margin = '0';
  }, []);

  return (
    <div style={{ display: 'flex', width: 3780, height: 1240, background: '#fff' }}>
      <Panel
        model1={kpModel1}
        model2={kpModel2}
        yTicks={kpTicks}
        yMin={85800}
        yMax={285500}
        subRoman="k"
        subItalic="p"
        lineColors={['#FF4500', '#00BFFF']}
        axisWidth={497}
        padRight={18}
        legendX={16}
      />
      <Panel
        model1={ktModel1}
        model2={ktModel2}
        yTicks={ktTicks}
        yMin={183400}
        yMax={495900}
        subRoman="k"
        subItalic="t"
        lineColors={['rgba(255,69,0,0.8)', 'rgba(0,191,255,0.88)']}
        axisWidth={340}
        padRight={172}
        legendX={27}
      />
    </div>
  );
}
